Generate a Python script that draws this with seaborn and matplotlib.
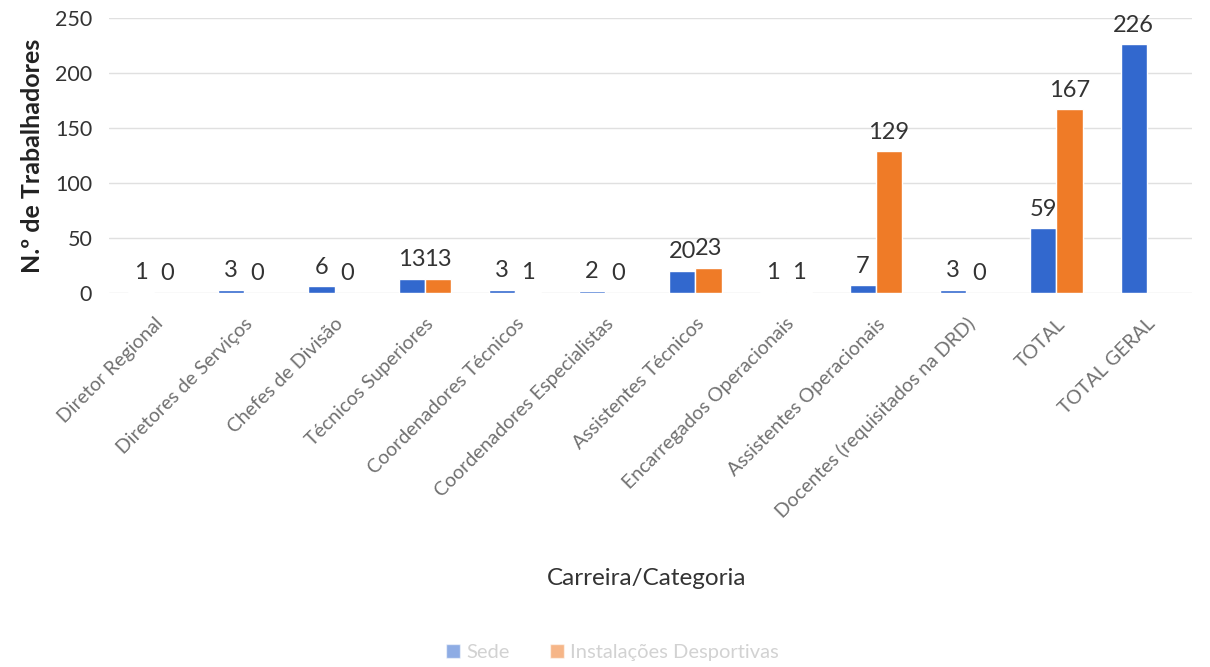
import numpy as np
import pandas as pd
import matplotlib.pyplot as plt
import seaborn as sns

# data
categorias = ["Diretor Regional", "Diretores de Serviços", "Chefes de Divisão",
              "Técnicos Superiores", "Coordenadores Técnicos", "Coordenadores Especialistas",
              "Assistentes Técnicos", "Encarregados Operacionais", "Assistentes Operacionais",
              "Docentes (requisitados na DRD)", "TOTAL", "TOTAL GERAL"]
sede = [1, 3, 6, 13, 3, 2, 20, 1, 7, 3, 59, 226]
instalacoes = [0, 0, 0, 13, 1, 0, 23, 1, 129, 0, 167, np.nan]
series = ["Sede", "Instalações Desportivas"]
cores = ["#3268CE", "#EF7B27"]

df = pd.DataFrame({
    "Carreira/Categoria": categorias * 2,
    "valor": sede + instalacoes,
    "serie": [series[0]] * len(categorias) + [series[1]] * len(categorias),
})

sns.set_theme(style="whitegrid")
plt.rcParams["font.family"] = ["Lato", "DejaVu Sans"]

fig = plt.figure(figsize=(12.1, 6.67), dpi=100)
ax = fig.add_axes([0.09, 0.561, 0.895, 0.412])

sns.barplot(data=df, x="Carreira/Categoria", y="valor", hue="serie",
            hue_order=series, palette=cores, order=categorias,
            width=0.58, errorbar=None, saturation=1, ax=ax)

for c in ax.containers:
    ax.bar_label(c, fmt="%d", padding=6, fontsize=17, color="#333333")

ax.set_ylim(0, 250)
ax.set_yticks(range(0, 251, 50))
ax.tick_params(axis="y", labelsize=15.5, labelcolor="#333333", length=0, pad=12)
ax.tick_params(axis="x", length=0, pad=16)
ax.set_xticks(range(len(categorias)))
ax.set_xticklabels(categorias, rotation=45, ha="right", rotation_mode="anchor",
                   fontsize=14, color="#707070")
ax.grid(axis="y", color="#E0E0E0", linewidth=1)
ax.grid(axis="x", visible=False)
for s in ax.spines.values():
    s.set_visible(False)

ax.set_ylabel("N.º de Trabalhadores", fontsize=18, fontweight="bold", color="#222222", labelpad=8)
ax.set_xlabel("")
fig.text(0.534, 0.133, "Carreira/Categoria", ha="center", va="center",
         fontsize=17.5, color="#333333")

leg = fig.legend(*ax.get_legend_handles_labels(), loc="center", bbox_to_anchor=(0.506, 0.022),
                 ncol=2, frameon=False, fontsize=14.5, handlelength=0.7, handleheight=0.7,
                 columnspacing=2.0, handletextpad=0.3)
ax.get_legend().remove()
for t in leg.get_texts():
    t.set_color("#D2D2D2")
for h in leg.legend_handles:
    h.set_alpha(0.55)

fig.savefig("out.png", dpi=100, facecolor="white")
